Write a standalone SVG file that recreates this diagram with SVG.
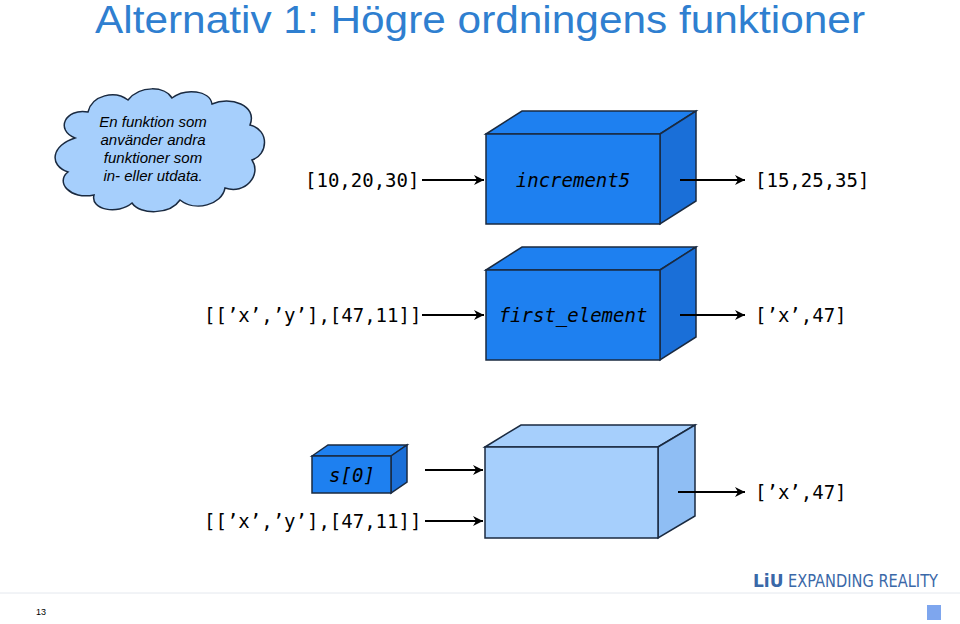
<svg xmlns="http://www.w3.org/2000/svg" width="960" height="624" viewBox="0 0 960 624">
<defs>
<marker id="ah" viewBox="0 0 10 10" refX="10" refY="5" markerWidth="12" markerHeight="10" orient="auto" markerUnits="userSpaceOnUse"><path d="M0,0 L10,5 L0,10 L3,5 z" fill="#000"/></marker>
<style>
.mono{font-family:"DejaVu Sans Mono",monospace;font-size:19px;fill:#000}
.f{fill:#1e80f0;stroke:#1a2a40;stroke-width:1.5}
.fs{fill:#1a6fd8;stroke:#1a2a40;stroke-width:1.5}
.l{fill:#a6cffc;stroke:#1a2a40;stroke-width:1.5}
.ls{fill:#8fbef4;stroke:#1a2a40;stroke-width:1.5}
.a{stroke:#000;stroke-width:2;fill:none;marker-end:url(#ah)}
</style>
</defs>
<rect width="960" height="624" fill="#fff"/>
<text x="95" y="33" font-family="Liberation Sans,Arial,sans-serif" font-size="38" fill="#2f7fd0" textLength="770" lengthAdjust="spacingAndGlyphs">Alternativ 1: Högre ordningens funktioner</text>
<g id="cloud">
<path d="M75,138 C55,130 65,108 88,112 C92,95 115,90 128,100 C140,85 165,86 172,98 C185,88 210,90 212,104 C230,96 258,105 250,125 C270,130 268,155 252,160 C262,175 245,195 225,188 C222,205 195,212 180,200 C170,215 140,215 132,203 C118,215 90,210 94,195 C70,200 55,182 68,172 C48,165 52,145 75,138 Z" fill="#a6cffc" stroke="#1a2a40" stroke-width="1.5"/>
<g font-family="Liberation Sans,Arial,sans-serif" font-size="15" font-style="italic" text-anchor="middle" fill="#000">
<text x="153" y="127">En funktion som</text>
<text x="153" y="145">använder andra</text>
<text x="153" y="163">funktioner som</text>
<text x="153" y="181">in- eller utdata.</text>
</g>
</g>
<g id="box1">
<path class="f" d="M486,134 L522,111 L696,111 L660,134 Z"/>
<path class="fs" d="M660,134 L696,111 L696,201 L660,224 Z"/>
<rect class="f" x="486" y="134" width="174" height="90"/>
<text class="mono" x="573" y="187" text-anchor="middle" font-style="italic">increment5</text>
</g>
<g id="box2">
<path class="f" d="M486,270 L522,247 L696,247 L660,270 Z"/>
<path class="fs" d="M660,270 L696,247 L696,337 L660,360 Z"/>
<rect class="f" x="486" y="270" width="174" height="90"/>
<text class="mono" x="573" y="322" text-anchor="middle" font-style="italic">first_element</text>
</g>
<g id="box3">
<path class="l" d="M485,447 L521,425 L695,425 L658,447 Z"/>
<path class="ls" d="M658,447 L695,425 L695,516 L658,538 Z"/>
<rect class="l" x="485" y="447" width="173" height="91"/>
</g>
<g id="small">
<path class="f" d="M312,456 L328,445 L407,445 L391,456 Z"/>
<path class="fs" d="M391,456 L407,445 L407,482 L391,493 Z"/>
<rect class="f" x="312" y="456" width="79" height="37"/>
<text class="mono" x="352" y="482" text-anchor="middle" font-style="italic">s[0]</text>
</g>
<g id="labels">
<text class="mono" x="305" y="187">[10,20,30]</text>
<text class="mono" x="755" y="187">[15,25,35]</text>
<text class="mono" x="204" y="322">[[’x’,’y’],[47,11]]</text>
<text class="mono" x="755" y="322">[’x’,47]</text>
<text class="mono" x="204" y="528">[[’x’,’y’],[47,11]]</text>
<text class="mono" x="755" y="499">[’x’,47]</text>
</g>
<g id="connectors">
<line class="a" x1="422" y1="180" x2="484" y2="180"/>
<line class="a" x1="680" y1="180" x2="745" y2="180"/>
<line class="a" x1="422" y1="315" x2="484" y2="315"/>
<line class="a" x1="680" y1="315" x2="745" y2="315"/>
<line class="a" x1="425" y1="470" x2="483" y2="470"/>
<line class="a" x1="425" y1="521" x2="483" y2="521"/>
<line class="a" x1="678" y1="492" x2="745" y2="492"/>
</g>
<line x1="0" y1="593" x2="960" y2="593" stroke="#e4e8ee" stroke-width="1"/>
<text x="753" y="587" font-family="DejaVu Sans,sans-serif" font-size="17" font-weight="bold" fill="#3a68a8">LiU</text>
<text x="788" y="587" font-family="DejaVu Sans,sans-serif" font-size="17" fill="#3a68a8" textLength="150" lengthAdjust="spacingAndGlyphs">EXPANDING REALITY</text>
<text x="36" y="615" font-family="Liberation Sans,Arial,sans-serif" font-size="9" fill="#000">13</text>
<rect x="927" y="605" width="14" height="15" fill="#7ea6ee"/>
</svg>
